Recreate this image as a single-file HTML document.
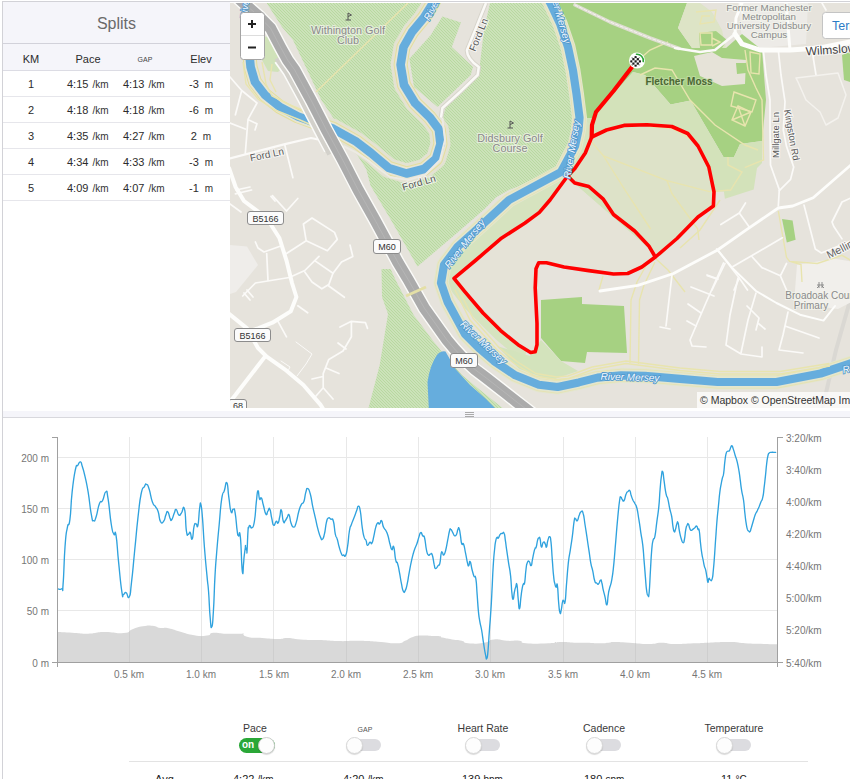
<!DOCTYPE html>
<html><head><meta charset="utf-8"><title>Activity</title>
<style>
html,body{margin:0;padding:0;}
body{width:850px;height:779px;overflow:hidden;background:#fff;position:relative;font-family:"Liberation Sans",sans-serif;color:#333;}
.abs{position:absolute;}
#frame{position:absolute;left:2px;top:1px;width:848px;height:800px;border-left:1px solid #d2d2d7;border-top:1px solid #d2d2d7;box-sizing:border-box;}
#splits{position:absolute;left:3px;top:3px;width:227px;height:405px;background:#fff;}
#splits .title{position:absolute;left:0;top:-1px;width:227px;height:41px;background:#f5f5fa;border-bottom:1px solid #d2d2da;text-align:center;font-size:16px;line-height:43px;color:#6a6a6a;}
#splits .hdr{position:absolute;left:0;top:41px;width:227px;height:26px;background:#f5f5fa;border-bottom:1px solid #dcdce4;}
#splits .row{position:absolute;left:0;width:227px;height:25px;border-bottom:1px solid #e6e6eb;}
#splits span{position:absolute;top:0;text-align:center;font-size:11px;line-height:26px;color:#2c2c2c;white-space:nowrap;}
#splits .u{font-size:10px;color:#333;}
#divider{position:absolute;left:3px;top:411px;width:847px;height:6px;background:#f5f5fa;border-bottom:1px solid #d8d8dd;}
#divider i{position:absolute;left:462px;width:9px;height:1px;background:#aaa;}
.tg{position:absolute;top:739px;width:30px;height:12px;border-radius:6px;background:#dcdce0;}
.tg b{position:absolute;left:-5px;top:-2px;width:17px;height:17px;border-radius:9px;background:#fdfdfd;border:1px solid #d8d8d8;box-sizing:border-box;box-shadow:0 1px 1px rgba(0,0,0,0.15);}
.tl{position:absolute;top:721px;font-size:10.5px;color:#3a3a3a;text-align:center;width:100px;line-height:14px;}

</style></head>
<body>
<div id="frame"></div>
<div id="splits">
<div class="title">Splits</div>
<div class="hdr">
<span style="left:13px;width:30px;font-size:11px;top:2px">KM</span>
<span style="left:65px;width:40px;font-size:11px;top:2px">Pace</span>
<span style="left:127px;width:30px;font-size:7px;color:#444;top:3px">GAP</span>
<span style="left:180px;width:36px;font-size:11px;top:2px">Elev</span>
</div>
<div class="row" style="top:68px"><span style="left:13px;width:30px">1</span><span style="left:64px">4:15 <span class="u" style="position:static"><i style="margin-left:1px;font-style:normal">/km</i></span></span><span style="left:120px">4:13 <span class="u" style="position:static"><i style="margin-left:1px;font-style:normal">/km</i></span></span><span style="left:180px;width:36px">-3 <span class="u" style="position:static">&nbsp;m</span></span></div>
<div class="row" style="top:94px"><span style="left:13px;width:30px">2</span><span style="left:64px">4:18 <span class="u" style="position:static"><i style="margin-left:1px;font-style:normal">/km</i></span></span><span style="left:120px">4:18 <span class="u" style="position:static"><i style="margin-left:1px;font-style:normal">/km</i></span></span><span style="left:180px;width:36px">-6 <span class="u" style="position:static">&nbsp;m</span></span></div>
<div class="row" style="top:120px"><span style="left:13px;width:30px">3</span><span style="left:64px">4:35 <span class="u" style="position:static"><i style="margin-left:1px;font-style:normal">/km</i></span></span><span style="left:120px">4:27 <span class="u" style="position:static"><i style="margin-left:1px;font-style:normal">/km</i></span></span><span style="left:180px;width:36px">2 <span class="u" style="position:static">&nbsp;m</span></span></div>
<div class="row" style="top:146px"><span style="left:13px;width:30px">4</span><span style="left:64px">4:34 <span class="u" style="position:static"><i style="margin-left:1px;font-style:normal">/km</i></span></span><span style="left:120px">4:33 <span class="u" style="position:static"><i style="margin-left:1px;font-style:normal">/km</i></span></span><span style="left:180px;width:36px">-3 <span class="u" style="position:static">&nbsp;m</span></span></div>
<div class="row" style="top:172px"><span style="left:13px;width:30px">5</span><span style="left:64px">4:09 <span class="u" style="position:static"><i style="margin-left:1px;font-style:normal">/km</i></span></span><span style="left:120px">4:07 <span class="u" style="position:static"><i style="margin-left:1px;font-style:normal">/km</i></span></span><span style="left:180px;width:36px">-1 <span class="u" style="position:static">&nbsp;m</span></span></div>
</div>
<div id="divider"><i style="top:1px"></i><i style="top:3px"></i><i style="top:5px"></i></div>

<svg class="abs" style="left:230px;top:3px" width="620" height="405" viewBox="230 3 620 405" font-family="Liberation Sans, sans-serif">
<defs>
<pattern id="hatch" width="3" height="3" patternUnits="userSpaceOnUse">
<rect width="3" height="3" fill="#d5e6c5"/><path d="M-1,-1 L4,4 M-1,2 L4,7 M-1,-4 L4,1 M2,-1 L5,2" stroke="#b7d99e" stroke-width="1.1" fill="none"/>
</pattern>
<clipPath id="mc"><rect x="230" y="3" width="620" height="405"/></clipPath>
<path id="riverA" d="M248,-5 L248,40 L250.6,67 L255,82 L265,95 L280,107 L298,116.500 L316,123 L333,128.700 L356.500,141.800 L371,153 L388.800,168 L406.5,173.5 L424,169 L436,158.8 L440.5,144 L438.8,129.4 L430,117.6 L415,103 L404,85 L400.6,64.7 L403.5,47 L412,32 L424,17.6 L433,3 L438,-6"/>
<path id="riverB" d="M546,-5 L550.6,3.5 L560,23.5 L568,47 L573,70.6 L576.5,94 L579.5,117.6 L578.5,130 L575,146 L561,172 L535,186 L509,200 L483.5,223.5 L457.6,246.8 L444,265 L441,283 L447.6,302 L465,334 L480,349 L494,361 L515.3,375.3 L538.8,384.7 L557.6,387 L578.8,382.4 L597.6,377.6 L621,375.3 L644.7,375.8 L680,378.8 L717.6,382 L776.5,382 L820.6,373.5 L855,362"/>
<path id="mway" d="M234,-6 L244.5,3.8 L258.5,16 L270.5,28.2 L280.4,47 L287.6,60 L294.7,70 L311,100 L326.4,130 L342.7,160 L358.2,190 L375,220 L397.9,262.4 L408.4,280 L424.4,308.2 L447,340 L455,349.5 L464.5,359.7 L475,369.5 L486,377.8 L505,392.6 L517.5,402.5 L526,409 L535,416"/>
</defs>
<g clip-path="url(#mc)">
<rect x="230" y="3" width="620" height="405" fill="#e6e3dc"/>
<!-- MAP-LAND -->
<path d="M266.700,3 L552,3 L562,30 L569,60 L573,95 L575,130 L571,152 L561,166 L535,180 L509,190 L496.5,197 L483.5,210 L457.6,232.6 L417.5,266.5 L391,220 L370.5,185.4 L366.2,169 L340,128 L321.3,100 L307.2,70 L293,40 L282,27 Z" fill="url(#hatch)"/>
<path d="M381.500,269 L390.600,269 L395.600,280 L413.500,314.800 L432.400,340 L446,357 L462,375 L480,390 L505,410 L368,410 L379.700,365 L388,314 L382,297 Z" fill="url(#hatch)"/>

<!-- corridor around river loop -->
<use href="#riverA" fill="none" stroke="#e3e2d2" stroke-width="20" stroke-linejoin="round"/>
<path d="M425,3 L490,3 L484,30 L479,72 L466,89 L446,107 L441,122 L425,108 L408,85 L404,60 L408,40 L420,20 Z" fill="#e6e3dc"/>
<path d="M442.400,16.500 L461,22.400 L451.800,47 L473,67 L470.600,75.300 L437.600,107 L414,87 L409.400,58.800 L430.600,35.300 Z" fill="url(#hatch)"/>
<!-- left-of-motorway beige -->
<path d="M230,3 L262,3 L290,50 L330,130 L375,215 L395,268 L381,268 L381,350 L368,408 L230,408 Z" fill="#e6e3dc"/>
<path d="M262,36 L268,37 L283,67 L278,72 L268,71 L262,60 Z" fill="#d0e2b9"/>
<!-- MAP-PARKS -->
<path d="M738,3 L808,3 L806,44 L760,48 L742,40 Z" fill="#edebe7"/>
<path d="M230,245 L247,246.5 L258,265 L236,292 L230,294 Z" fill="#efedea"/>
<path d="M853,290 L836,350 L822,410" fill="none" stroke="#dad8d3" stroke-width="4"/>
<path d="M558,3 L687,3 L678,28 L692,48 L726,48 L742,34 L762,50 L766,100 L762,141 L740,144 L734,157 L723.5,157 L690.6,100.6 L670.6,104.6 L645,75 L633,72 L592,118 L583,118 L579,70 L571,35 L558,3 Z" fill="#a6d182"/>
<path d="M592,118 L633,72 L645,75 L670.6,104.600 L690.6,100.600 L723.5,157 L734,157 L740,144 L762,141 L762,163 L757,168 L753.700,189.600 L724.900,198.800 L723.900,191.600 L714,191.800 L714,206 L700,217 L660,256 L646,246 L568,178 L560,172 L574,150 L581,118 Z" fill="#d3e2ba"/>
<path d="M591.7,137 L606.5,130 L624,125.400 L647,124.700 L671.8,126.500 L687.7,133.500 L698,146 L708.8,167 L714,191.800 L713.4,206 L698,217 L677,238.500 L656,256.500 L648.8,245.900 L634.7,231 L613.5,214.500 L603,198.800 L588.8,186.500 L574.7,183 L567.6,176 L574.7,168.800 L585.3,153 Z" fill="#dde2c8"/>
<path d="M560,172 L568,178 L646,246 L660,256 L630,273 L600,273 L540,263 L537,345 L530,352 L455,279 L500,240 L540,212 Z" fill="#e5e3d7"/>
<path d="M687,3 L700,3 L712,12 L722,30 L726,48 L692,48 L678,28 Z" fill="#dde4c6"/>
<path d="M694,56 L712,52 L722,58 L746,60 L745,84 L722,86 L700,76 Z" fill="#e6e3d8"/>
<path d="M699,33 L716,31 L727,40 L722,48 L700,48 Z" fill="#a6d182"/>
<path d="M736,63 L746,63 L746,73 L737,74 Z" fill="#a6d182"/>
<path d="M541,300 L582,297 L582,304 L624,306 L627,353 L587,352 L585,363 L561,361 L541,338 Z" fill="#a6d182"/>
<path d="M782,219 L792.6,220.6 L795.6,239.7 L786.8,242.6 Z" fill="#a6d182"/>
<path d="M797,264.7 L835,258.8 L855,262 L855,300 L838,309 L794,303 Z" fill="#f1efeb"/>
<path d="M842,55 L850,52 L850,82 L844,80 Z" fill="#a6d182"/>
<path d="M451,281 L470,305 L500,335 L520,352" fill="none" stroke="#d6e3bf" stroke-width="12" stroke-linecap="round"/><path d="M497,346 L530,356 L541,340 L561,361 L578,371 L552,380 L520,370 Z" fill="#d3e3bc"/>
<path d="M581,118 L592,125 L591,138 L568,176 L546,206 L500,238 L455,279 L448,300 L440,290 L442,262 L458,240 L485,218 L512,197 L538,183 L563,168 L576,146 Z" fill="#d6e3bf"/>
<!-- MAP-WATER -->
<use href="#riverA" fill="none" stroke="#e4de9c" stroke-width="14" stroke-linejoin="round"/><use href="#riverA" fill="none" stroke="#e6e5d4" stroke-width="12" stroke-linejoin="round"/><use href="#riverA" fill="none" stroke="#66addd" stroke-width="8.6" stroke-linejoin="round"/>
<use href="#riverB" fill="none" stroke="#e3e6cf" stroke-width="15" stroke-linejoin="round"/><use href="#riverB" fill="none" stroke="#e6e2b2" stroke-width="13" stroke-linejoin="round"/><use href="#riverB" fill="none" stroke="#e3e6cf" stroke-width="11.4" stroke-linejoin="round"/>
<use href="#riverB" fill="none" stroke="#66addd" stroke-width="8.2" stroke-linejoin="round"/>
<path d="M437,355 Q441,350.500 445.500,351.500 L455.500,369 L470,385 L486,399 L499,412 L429,412 L427.500,382 Q430,365 437,355 Z" fill="#66addd"/>
<!-- MAP-ROADS -->
<!-- footpaths (pale yellow) -->
<g fill="none" stroke="#e8e4ae" stroke-width="1.4">
<path d="M316,92 L408,3"/>
<path d="M590.6,140.600 L603.5,156 L667,180.600 L709.4,191.600 L730.6,190 L742,172 L728,165 L728,157"/>
<path d="M603.5,156 L625,190 L650.6,229"/>
<path d="M667,180.600 L671.8,193.500 L697.6,228.800 L699,240"/><path d="M648,126.500 L672,128.500 L690,139"/>
<path d="M640,75 L655,68 L672,70 L690,100 L715,125 L745,145 L758,150"/>
<path d="M636,62 L650,50 L668,42"/>
<path d="M745,50 L748,70 L756,88 L762,100 L763.5,160 L744.7,167.600"/>
<path d="M734,92 L756,100 L752,112 L731,106 Z"/>
<path d="M738,106 L751,112 L745,126 L732,120 Z M738,106 L745,126 M751,112 L732,120"/>
<path d="M696,12 L716,10 L714,22 L700,24 L702,16 L710,16"/>
<path d="M700,33 L712,33 L712,45 L701,45 Z M712,38 L720,42 L712,46"/>
<path d="M750,52 L760,54 L759,74 L751,73 Z"/>
<path d="M603,276 L599,290"/>
<path d="M648,262 L637,282 L631,300 L630,363 M655,262 L644,285 L639.500,300 L638.500,364"/>
<path d="M655,258 L668,270 L685,292"/>
<path d="M455,290 L470,320 L497,350 L515,364 L535,376 L557,379.500 L569,378.500 L593,369.500 L626,363.500 L680,370.500 L720,374 L780,374 L830,366"/><path d="M458,288 L473,318 L499,347.500 L517,361.500 L536,373.500 L557,377 L568,376 L592,367 L626,361 L680,368 L720,371.500 L780,371.500 L829,363.500"/>
<path d="M720,200 L700,230 L680,248"/>
<path d="M778.300,211 L786.500,257.300 L789.600,261.400 L817.300,263.500 L842,255.300 L852,261 M789.600,261.400 L801,264.500 L802,282"/>
</g>
<g fill="none" stroke="#e8e4ae" stroke-width="1.4">
<path d="M243,62 L246,84 L258,99 L275,110 L300,120 L330,133"/>
<path d="M262,62 L266,84 L272,96 L290,105 L310,113 L322,110"/>
<path d="M272,64 L270,80 L276,92"/>
</g>
<!-- minor roads white -->
<g fill="none" stroke="#fbfaf8" stroke-width="1.7" stroke-linecap="round" stroke-linejoin="round">
<path d="M230,158.500 L284,144.400 L311,138 L323,140.500" stroke-width="2.2"/>
<path d="M230,77 L241.700,90.500 L257,103 L248,119.300 L245.300,153.400 M241.700,90.500 L235.400,114.800 M230,123 L245.300,129 M248.900,120 L257,123.800 L255,130 M235.400,193.800 L251.600,190 M271,196.500 L275,201"/>
<path d="M284.800,145 L292.900,177.700"/>
<path d="M303.4,224 L312,218 L334.5,232.4 L337.3,239.4 L327.4,250.7 L306.2,240.8 Z M306.2,240.8 L286.5,253.5"/>
<path d="M255.4,242 L258,248 L264,252 L279.4,246.5 M266.7,253.5 L268,280.4"/>
<path d="M242.7,296 L255.4,283 L289.3,277.5 L304.8,270.5 L319,256.4 M314.7,260.6 L333,273.3 L341.5,262 L352.8,256.4 L350,245"/>
<path d="M304.8,272 L312,282 L321.8,288.8 L328.8,284.6 L333,273.3 M328.8,286 L344.4,297.3"/>
<path d="M244,293 L250,300 M247,290 L253,297"/>
<path d="M297.8,305.8 L307.7,312.8 M278,321.3 L286.5,336.8"/>
<path d="M340,327 L351.4,321.3 L365.5,322.7 L367.5,328.4 M351.4,321.3 L351.4,336.8 L343,351 L328.8,359.4 L323.2,373.6 L323.2,387.7 L316,396 M326,368 L339,373.5 M312,379 L323,376.5 M323.2,387.7 L333,399 M338,343 L346,349"/>
<path d="M272.4,195.6 L286.5,211 L297.8,198.5"/>
<path d="M230,204 L241,212 M236,190 L250,187"/>
<path d="M281,361 L290,367 L288,371 M296,342 L312,354 L306,364 L297,376" stroke-width="1"/>
<path d="M575,5 L610,22 L650,38 L679,48.5" stroke="#dfddd2" stroke-width="3.6"/><path d="M575,5 L610,22 L650,38 L679,48.5" stroke="#f6f5f0" stroke-width="1" stroke-dasharray="3 2"/><path d="M675,48 L700,52 L715,50 L725,42 L735,34" stroke-width="2.5"/>
<path d="M763.300,50 L766,75 L770,100 L770,130 L770.500,165 L779.300,189.600 L778.300,206"/>
<path d="M778.300,50 L781,75 L785,101.700 L783.300,130 L786.500,146.400 L793.700,167 L790.600,179.300 L779.300,190.600"/>
<path d="M798,50 L812,50 L816,75"/>
<path d="M796,78 L838,73 L846,95 L838,118 L826,125 L820,112 L806,100 L798,82 Z" stroke="#f4f2ee" stroke-width="1.5"/>
<path d="M672,275 L669,300 L666,326 M660,327 L670,329"/>
<path d="M723.5,263 L705,305 L690,340 L692,346 L706,347"/>
<path d="M691,287 L714,296 M688,304 L701,313 M687,321 L696,326 M707,275 L718,279"/>
<path d="M738,278 L730,315 L726,345 L741,354 L762,357 L762,347"/>
<path d="M756,293 L748,320 L741,353"/>
<path d="M747,306 L759,318 L756,330 M759,324 L765,329"/>
<path d="M788,312 L783,335 L779,350 L803,353 M785,326 L819,338"/>
<path d="M720.800,224.500 L739.300,213 L745.500,203 M739.300,213 L749.600,227.600"/>
<path d="M716.700,249 L739.300,277.900 L747.500,290 M733,266.600 L782.400,237.800 M751.600,256.300 L761.900,267.600 L780.400,275.800 L786.500,290 M780.400,275.800 L786.500,263.500 M725,263.500 L712,290 M707.500,275.800 L716.700,278.900 M739.300,277.900 L734,290"/>
<path d="M804,205 L815.300,249 L821.400,253 L852,240.500"/>
<path d="M852,197.500 L842,202 L832,222 L833.800,226.500 L842,238.900"/>
<path d="M822,3 L826,10 M740,3 L744,20"/>
</g>
<!-- Ford Ln roads w/ casing -->
<path d="M442,115 L445,140 L440,160 L425,175 L408,180 L390,177 L378,168 L367.800,160 L356.500,152.700 L343.300,146" fill="none" stroke="#eceae4" stroke-width="2" stroke-linejoin="round"/>
<path d="M486,3 L476,28 L467,50 Q466.500,58 478.800,67 L477.600,75 L460,92 L442.400,108 L441,117.600" fill="none" stroke="#d8d5cc" stroke-width="4.5" stroke-linejoin="round"/>
<path d="M486,3 L476,28 L467,50 Q466.500,58 478.800,67 L477.600,75 L460,92 L442.400,108 L441,117.600" fill="none" stroke="#faf9f6" stroke-width="2.5" stroke-linejoin="round"/>
<!-- major white roads -->
<g fill="none" stroke="#fdfdfb" stroke-linecap="round" stroke-linejoin="round">
<path d="M229,168 L235.6,187 L244,201 L266.7,218 L279.4,238 L286.5,260.6 L292,283 L296.4,297 L290.7,311.4 L272.4,322.7 L258,328.4 L250,331" stroke-width="4"/><path d="M228,313 L247,328.4 L258,348 L266.7,356.6 L286.5,370.7 L303.4,385 L320.4,404.6 L325,412 M265,356.6 L235.6,394.7 L228,404" stroke-width="4"/>
<path d="M600,291 L638,285.3 L673.5,273.5 L717.6,250 L747,229.4 L778.3,208 L792.7,206 L813.2,197.8 L852,164" stroke-width="2.8"/>
<path d="M717.6,250 L732,267.6 L756,291 L776.5,303 L800,314.7 L823.5,320.6 L835,306" stroke-width="2"/>
<path d="M735,34 L742,44 L760,50 L790,50 L820,48 L850,42" stroke-width="5"/>
<path d="M735,34 L736,18 L742,3 M790,50 L786,3" stroke-width="3"/>
</g>
<!-- motorway -->
<path d="M286,58 L294.7,70 L311,100 L326.4,130 L336,148" fill="none" stroke="#fbfbf9" stroke-width="7.5" transform="translate(-8.5,2.5)"/>
<path d="M285,56 L294.7,70 L311,100 L326.4,130 L338,152" fill="none" stroke="#d3d1cb" stroke-width="4.6" transform="translate(-8.5,2.5)"/>
<use href="#mway" fill="none" stroke="#fbfbf9" stroke-width="14"/>
<use href="#mway" fill="none" stroke="#ababab" stroke-width="11.2"/>
<use href="#mway" fill="none" stroke="#b7b7b7" stroke-width="0.8"/>
<path d="M406,296 L426,287" stroke="#e4dfa6" stroke-width="3" fill="none"/>
<!-- MAP-ROUTE -->
<g fill="none" stroke="#f00" stroke-width="3.6" stroke-linejoin="round" stroke-linecap="round">
<path d="M632,67 L613.5,91 L596,112 L592,125 L591.7,137" stroke-width="4.2"/>
<path d="M591.7,137 L606.5,130 L624,125.4 L647,124.7 L671.8,126.5 L687.7,133.5 L698,146 L708.8,167 L714,191.8 L713.4,206 L698,217 L677,238.5 L656,256.5 L641.8,267 L627.7,273.5 L613.5,274 L588.8,270.6 L564,267 L546.5,262.8 L538.7,262.8 L536,268.8 L535.2,288 L537,323.5 L537,344.7 L535.2,351.8 L530.6,352.5 L518,344.7 L500.6,330.6 L483,313 L465,291.8 L454,278.4 L476,260 L500.6,238.8 L525,223 L539.4,212.4 L550,200 L567.6,176 L574.7,168.8 L585.3,153 L591.7,137"/>
<path d="M567.6,176 L574.7,183 L588.8,186.5 L603,198.8 L613.5,214.5 L634.7,231 L648.8,245.9 L655,256.5"/>
</g>
<circle cx="637" cy="60.5" r="8" fill="#fff"/>
<path d="M636.5,54.2 A6.3,6.3 0 0 1 643.2,61.5" fill="none" stroke="#2aa737" stroke-width="1.6" stroke-linecap="round"/>
<clipPath id="fc"><circle cx="635.6" cy="61.4" r="5.4"/></clipPath>
<g clip-path="url(#fc)" fill="#1a1a1a"><rect x="627.90" y="53.70" width="2.20" height="2.20"/><rect x="632.30" y="53.70" width="2.20" height="2.20"/><rect x="636.70" y="53.70" width="2.20" height="2.20"/><rect x="641.10" y="53.70" width="2.20" height="2.20"/><rect x="630.10" y="55.90" width="2.20" height="2.20"/><rect x="634.50" y="55.90" width="2.20" height="2.20"/><rect x="638.90" y="55.90" width="2.20" height="2.20"/><rect x="627.90" y="58.10" width="2.20" height="2.20"/><rect x="632.30" y="58.10" width="2.20" height="2.20"/><rect x="636.70" y="58.10" width="2.20" height="2.20"/><rect x="641.10" y="58.10" width="2.20" height="2.20"/><rect x="630.10" y="60.30" width="2.20" height="2.20"/><rect x="634.50" y="60.30" width="2.20" height="2.20"/><rect x="638.90" y="60.30" width="2.20" height="2.20"/><rect x="627.90" y="62.50" width="2.20" height="2.20"/><rect x="632.30" y="62.50" width="2.20" height="2.20"/><rect x="636.70" y="62.50" width="2.20" height="2.20"/><rect x="641.10" y="62.50" width="2.20" height="2.20"/><rect x="630.10" y="64.70" width="2.20" height="2.20"/><rect x="634.50" y="64.70" width="2.20" height="2.20"/><rect x="638.90" y="64.70" width="2.20" height="2.20"/><rect x="627.90" y="66.90" width="2.20" height="2.20"/><rect x="632.30" y="66.90" width="2.20" height="2.20"/><rect x="636.70" y="66.90" width="2.20" height="2.20"/><rect x="641.10" y="66.90" width="2.20" height="2.20"/></g>
<!-- MAP-LABELS -->
<g font-size="10" fill="#8a8a8a" text-anchor="middle" stroke="#f4f6ee" stroke-width="2" paint-order="stroke" stroke-opacity="0.7">
<text x="348" y="34" font-size="10.8">Withington Golf</text><text x="348" y="44" font-size="10.8">Club</text>
<text x="510" y="142" font-size="10.8">Didsbury Golf</text><text x="510" y="152" font-size="10.8">Course</text>
<text x="769" y="10.5" font-size="9.8">Former Manchester</text><text x="769" y="19.600" font-size="9.8">Metropolitan</text><text x="769" y="28.700" font-size="9.8">University Didsbury</text><text x="769" y="37.800" font-size="9.8">Campus</text>
<text x="819" y="299" text-anchor="middle">Broadoak Cour</text><text x="811" y="309">Primary</text>
</g>
<text x="679" y="85" font-size="10" font-weight="bold" fill="#4a6634" text-anchor="middle" stroke="#c6dfac" stroke-width="2" paint-order="stroke" stroke-opacity="0.7">Fletcher Moss</text>
<g font-size="10" fill="#555" text-anchor="middle" stroke="#fff" stroke-width="2" paint-order="stroke" stroke-opacity="0.7">
<text x="267" y="158" transform="rotate(-12 267 155)">Ford Ln</text>
<text x="419" y="186" transform="rotate(-16 419 183)">Ford Ln</text>
<text x="479" y="38" transform="rotate(-68 479 35)">Ford Ln</text>
<text x="778.500" y="141" transform="rotate(-90 775.500 138)" font-size="9.5">Millgate Ln</text>
<text x="794" y="135" transform="rotate(80 791 132)" font-size="9.5">Kingston Rd</text>
<text x="843" y="253" transform="rotate(-27 840 249)" font-size="11" fill="#666">Melling</text>
<text x="831" y="54" transform="rotate(-4 828 50)" font-size="12" fill="#444">Wilmslow</text>
</g>
<g font-size="10" font-style="italic" fill="#f2f8ff" text-anchor="middle" stroke="#4f97cc" stroke-width="1.6" paint-order="stroke">
<text x="465" y="247" transform="rotate(-52 465 244)">River Mersey</text>
<text x="483" y="346" transform="rotate(43 483 343)">River Mersey</text>
<text x="630" y="380.500" transform="rotate(1.5 630 377)">River Mersey</text>
<text x="575" y="150" transform="rotate(-80 575 150)">River Mersey</text>
<text x="433" y="12" transform="rotate(-62 433 10)">River</text>
<text x="557" y="21" transform="rotate(74 560 18)">River Mersey</text>
<text x="250" y="10" transform="rotate(-85 248 10)">River</text>
<text x="850" y="372" transform="rotate(-12 850 370)">Riv</text>
</g>
<g font-size="9" fill="#333" text-anchor="middle">
<rect x="247.500" y="211.500" width="36" height="13" rx="2.500" fill="#fbfbfb" stroke="#8c8c8c"/><text x="265.500" y="221.500">B5166</text>
<rect x="234.500" y="328.500" width="36" height="13" rx="2.500" fill="#fbfbfb" stroke="#8c8c8c"/><text x="252.500" y="338.500">B5166</text>
<rect x="373.500" y="239.500" width="27" height="14" rx="2.500" fill="#fbfbfb" stroke="#8c8c8c"/><text x="387" y="250">M60</text>
<rect x="450.500" y="353.500" width="27" height="14" rx="2.500" fill="#fbfbfb" stroke="#8c8c8c"/><text x="464" y="364">M60</text>
<rect x="228.500" y="399.500" width="18" height="12" rx="2.500" fill="#fbfbfb" stroke="#8c8c8c"/><text x="238" y="409">68</text>
</g>
<g stroke="#555" stroke-width="1" fill="none">
<path d="M348,13 V20 M345.500,20 H351 M348,13 L351.500,15 L348,16.500"/>
<path d="M510,121 V128 M507.500,128 H513 M510,121 L513.500,123 L510,124.500"/>
</g>
<g stroke="#777" stroke-width="0.8" fill="none"><path d="M819,282 V288 M822,282 V288 M817,285 H824 M817,288 L819,286 M824,288 L822,286"/></g>
<rect x="697" y="392" width="160" height="17" fill="#fff" fill-opacity="0.75"/>
<text x="700" y="403.500" font-size="10.500" fill="#333">© Mapbox © OpenStreetMap Im</text>
</g>
<!-- MAP-CONTROLS -->
<rect x="240.500" y="12.500" width="24" height="47" rx="3" fill="#fff" stroke="#a4a4a4"/>
<path d="M241,35.500 H264" stroke="#ddd" stroke-width="1"/>
<path d="M248,24 H256 M252,20 V28 M248,47.500 H256" stroke="#222" stroke-width="2" fill="none"/>
<rect x="822.500" y="12.500" width="40" height="26" rx="3" fill="#fff" stroke="#c4c4c4"/>
<text x="832" y="30" font-size="12.500" fill="#2b7bc6">Terr</text>
</svg>

<svg class="abs" style="left:0;top:420px" width="850" height="359" viewBox="0 420 850 359" font-family="Liberation Sans, sans-serif">
<g stroke="#e8e8e8" stroke-width="1" shape-rendering="crispEdges">
<path d="M57,457.5H778M57,508.5H778M57,559.5H778M57,610.5H778"/>
<path d="M129.5,437V662M201.5,437V662M273.5,437V662M346.5,437V662M418.5,437V662M490.5,437V662M563.5,437V662M635.5,437V662M707.5,437V662"/>
</g>
<clipPath id="gc"><path d="M57.5,632.1 C57.5,632.1 53.3,631.9 57.7,632.1 C62.0,632.3 63.0,632.3 72.1,632.8 C81.3,633.2 78.5,633.9 88.2,633.7 C97.8,633.5 93.6,632.3 104.2,632.1 C114.8,631.9 114.8,634.0 123.5,633.1 C132.2,632.1 127.3,630.9 133.1,628.9 C138.9,626.9 137.0,627.3 142.8,626.3 C148.5,625.4 147.1,625.2 152.4,625.7 C157.7,626.2 155.6,627.2 160.4,627.9 C165.2,628.7 162.2,627.0 168.4,628.3 C174.7,629.5 173.6,630.0 181.3,632.1 C189.0,634.2 186.4,634.3 194.1,635.3 C201.8,636.4 201.2,636.4 207.0,635.6 C212.8,634.9 207.6,633.3 213.4,632.8 C219.2,632.2 217.6,633.4 226.2,633.7 C234.9,634.0 237.3,633.7 242.3,633.7 C247.3,633.7 241.1,632.8 242.8,633.7 C244.6,634.7 242.2,635.7 248.0,636.9 C253.8,638.2 253.1,637.3 262.1,637.9 C271.2,638.5 270.5,638.9 278.2,638.9 C285.9,638.9 281.1,637.7 287.8,637.9 C294.5,638.1 291.0,638.8 300.6,639.5 C310.3,640.2 308.3,639.7 319.9,640.1 C331.5,640.6 327.6,640.9 339.2,641.1 C350.7,641.3 346.9,640.6 358.4,640.8 C370.0,641.0 366.1,641.0 377.7,641.7 C389.3,642.5 388.8,643.6 397.0,643.3 C405.2,643.1 400.2,642.7 405.0,640.8 C409.8,638.9 407.7,638.5 413.0,636.9 C418.3,635.4 416.7,635.9 422.7,635.6 C428.6,635.4 427.6,635.8 432.8,636.0 C438.0,636.2 437.1,635.8 440.0,636.3 C442.9,636.8 438.8,636.6 442.5,637.6 C446.1,638.5 446.3,638.5 452.1,639.5 C457.9,640.5 456.9,639.6 461.7,640.8 C466.6,641.9 461.4,642.8 468.2,643.3 C474.9,643.9 476.5,643.9 484.2,642.7 C491.9,641.6 487.1,640.1 493.9,639.5 C500.6,638.9 499.0,640.4 506.7,640.8 C514.4,641.2 513.8,640.0 519.5,640.8 C525.3,641.6 517.3,642.6 526.0,643.3 C534.6,644.1 537.8,643.7 548.4,643.3 C559.0,643.0 553.6,642.3 561.3,642.1 C569.0,641.9 566.4,642.5 574.1,642.7 C581.8,642.9 579.3,642.5 587.0,642.7 C594.7,642.9 592.9,643.4 599.8,643.3 C606.7,643.3 606.1,642.8 610.0,642.4 C613.9,642.0 606.9,642.0 612.7,642.1 C618.4,642.2 618.5,642.1 629.3,642.7 C640.0,643.3 638.9,644.0 648.5,644.0 C658.2,644.0 653.7,642.7 661.4,642.7 C669.1,642.7 664.6,643.8 674.2,644.0 C683.9,644.2 681.9,643.8 693.5,643.3 C705.0,642.9 701.2,642.8 712.8,642.4 C724.3,642.0 722.4,641.8 732.0,642.1 C741.7,642.4 735.2,642.8 744.9,643.3 C754.5,643.9 754.4,643.7 764.1,644.0 C773.9,644.3 773.3,644.2 777.3,644.3 C781.3,644.4 777.4,644.3 777.5,644.3 L777.5,662 L57.5,662 Z"/></clipPath>
<path d="M57.5,632.1 C57.5,632.1 53.3,631.9 57.7,632.1 C62.0,632.3 63.0,632.3 72.1,632.8 C81.3,633.2 78.5,633.9 88.2,633.7 C97.8,633.5 93.6,632.3 104.2,632.1 C114.8,631.9 114.8,634.0 123.5,633.1 C132.2,632.1 127.3,630.9 133.1,628.9 C138.9,626.9 137.0,627.3 142.8,626.3 C148.5,625.4 147.1,625.2 152.4,625.7 C157.7,626.2 155.6,627.2 160.4,627.9 C165.2,628.7 162.2,627.0 168.4,628.3 C174.7,629.5 173.6,630.0 181.3,632.1 C189.0,634.2 186.4,634.3 194.1,635.3 C201.8,636.4 201.2,636.4 207.0,635.6 C212.8,634.9 207.6,633.3 213.4,632.8 C219.2,632.2 217.6,633.4 226.2,633.7 C234.9,634.0 237.3,633.7 242.3,633.7 C247.3,633.7 241.1,632.8 242.8,633.7 C244.6,634.7 242.2,635.7 248.0,636.9 C253.8,638.2 253.1,637.3 262.1,637.9 C271.2,638.5 270.5,638.9 278.2,638.9 C285.9,638.9 281.1,637.7 287.8,637.9 C294.5,638.1 291.0,638.8 300.6,639.5 C310.3,640.2 308.3,639.7 319.9,640.1 C331.5,640.6 327.6,640.9 339.2,641.1 C350.7,641.3 346.9,640.6 358.4,640.8 C370.0,641.0 366.1,641.0 377.7,641.7 C389.3,642.5 388.8,643.6 397.0,643.3 C405.2,643.1 400.2,642.7 405.0,640.8 C409.8,638.9 407.7,638.5 413.0,636.9 C418.3,635.4 416.7,635.9 422.7,635.6 C428.6,635.4 427.6,635.8 432.8,636.0 C438.0,636.2 437.1,635.8 440.0,636.3 C442.9,636.8 438.8,636.6 442.5,637.6 C446.1,638.5 446.3,638.5 452.1,639.5 C457.9,640.5 456.9,639.6 461.7,640.8 C466.6,641.9 461.4,642.8 468.2,643.3 C474.9,643.9 476.5,643.9 484.2,642.7 C491.9,641.6 487.1,640.1 493.9,639.5 C500.6,638.9 499.0,640.4 506.7,640.8 C514.4,641.2 513.8,640.0 519.5,640.8 C525.3,641.6 517.3,642.6 526.0,643.3 C534.6,644.1 537.8,643.7 548.4,643.3 C559.0,643.0 553.6,642.3 561.3,642.1 C569.0,641.9 566.4,642.5 574.1,642.7 C581.8,642.9 579.3,642.5 587.0,642.7 C594.7,642.9 592.9,643.4 599.8,643.3 C606.7,643.3 606.1,642.8 610.0,642.4 C613.9,642.0 606.9,642.0 612.7,642.1 C618.4,642.2 618.5,642.1 629.3,642.7 C640.0,643.3 638.9,644.0 648.5,644.0 C658.2,644.0 653.7,642.7 661.4,642.7 C669.1,642.7 664.6,643.8 674.2,644.0 C683.9,644.2 681.9,643.8 693.5,643.3 C705.0,642.9 701.2,642.8 712.8,642.4 C724.3,642.0 722.4,641.8 732.0,642.1 C741.7,642.4 735.2,642.8 744.9,643.3 C754.5,643.9 754.4,643.7 764.1,644.0 C773.9,644.3 773.3,644.2 777.3,644.3 C781.3,644.4 777.4,644.3 777.5,644.3 L777.5,662 L57.5,662 Z" fill="#d9d9d9" stroke="none"/>
<g stroke="#cecece" stroke-width="1" shape-rendering="crispEdges" clip-path="url(#gc)">
<path d="M129.5,625V662M201.5,625V662M273.5,625V662M346.5,625V662M418.5,625V662M490.5,625V662M563.5,625V662M635.5,625V662M707.5,625V662"/>
</g>
<path d="M57.7,588.8 C58.9,588.8 60.2,590.2 61.8,588.8 C63.5,587.3 62.2,596.5 63.1,583.9 C64.1,571.4 63.8,563.9 65.0,547.0 C66.3,530.2 65.8,535.9 67.3,527.8 C68.7,519.6 68.4,530.3 69.9,519.7 C71.3,509.1 70.5,507.4 72.1,492.4 C73.7,477.5 73.6,478.1 75.3,470.0 C77.1,461.8 76.3,467.5 77.9,465.1 C79.4,462.7 79.1,461.4 80.5,461.9 C81.8,462.4 81.0,462.4 82.4,466.7 C83.7,471.1 83.2,468.7 85.0,476.4 C86.7,484.1 86.2,480.9 88.2,492.4 C90.1,504.0 89.7,506.4 91.4,514.9 C93.0,523.4 92.2,520.2 93.6,520.7 C95.1,521.2 94.5,521.6 96.2,516.5 C97.9,511.4 97.5,508.5 99.4,503.7 C101.3,498.9 100.7,504.0 102.6,500.5 C104.5,496.9 104.2,492.3 105.8,491.8 C107.5,491.3 106.4,489.0 108.1,498.9 C109.7,508.7 109.6,513.9 111.3,524.5 C113.0,535.1 112.4,530.8 113.9,534.2 C115.3,537.5 114.7,527.1 116.1,535.8 C117.5,544.4 116.9,546.2 118.7,563.1 C120.4,579.9 120.4,582.5 121.9,592.0 C123.3,601.4 122.2,594.3 123.5,594.5 C124.7,594.7 124.3,591.9 126.1,592.6 C127.8,593.3 127.6,599.9 129.3,596.8 C130.9,593.7 129.9,596.3 131.5,582.3 C133.2,568.4 132.8,569.5 134.7,550.2 C136.7,531.0 136.0,535.0 137.9,518.1 C139.9,501.3 139.2,503.5 141.1,494.0 C143.1,484.6 142.7,489.5 144.4,486.7 C146.0,483.8 145.2,483.6 146.6,484.4 C148.1,485.2 147.4,483.9 149.2,489.2 C150.9,494.5 150.5,496.8 152.4,502.1 C154.3,507.4 153.9,504.0 155.6,506.9 C157.3,509.8 156.7,507.4 158.2,511.7 C159.6,516.0 158.8,518.4 160.4,521.3 C162.1,524.2 162.0,523.3 163.6,521.3 C165.3,519.4 164.6,517.8 165.9,514.9 C167.1,512.0 166.5,510.7 167.8,511.7 C169.1,512.7 168.9,515.7 170.0,518.1 C171.2,520.5 170.4,521.2 171.7,519.7 C172.9,518.3 172.9,516.4 174.2,513.3 C175.6,510.2 174.8,509.0 176.1,509.4 C177.5,509.9 177.2,513.8 178.7,514.9 C180.3,516.1 179.6,515.0 181.3,513.3 C183.0,511.6 183.0,503.8 184.5,509.1 C186.0,514.4 185.3,523.4 186.4,531.0 C187.6,538.5 187.2,533.7 188.3,534.2 C189.5,534.7 189.1,531.1 190.3,532.6 C191.4,534.0 191.0,540.9 192.2,539.0 C193.4,537.1 193.0,530.7 194.1,526.1 C195.3,521.6 194.9,524.2 196.1,523.9 C197.2,523.6 196.9,529.8 198.0,525.2 C199.0,520.6 198.7,514.7 199.6,508.5 C200.5,502.3 200.0,501.7 200.9,504.6 C201.7,507.5 201.4,505.4 202.5,518.1 C203.5,530.8 203.1,529.7 204.4,547.0 C205.8,564.4 205.7,562.4 207.0,575.9 C208.2,589.4 207.6,579.4 208.6,592.0 C209.5,604.5 209.2,607.3 210.2,617.7 C211.1,628.1 210.8,628.6 211.8,626.7 C212.8,624.7 212.4,626.5 213.4,611.2 C214.4,596.0 214.0,593.3 215.0,575.9 C216.0,558.6 215.4,568.9 216.6,553.4 C217.9,538.0 217.6,540.9 219.2,524.5 C220.7,508.2 220.2,509.0 221.7,498.9 C223.3,488.7 222.8,495.6 224.3,490.8 C225.9,486.0 225.5,480.9 226.9,482.8 C228.2,484.7 227.6,488.6 228.8,497.2 C230.1,505.9 229.7,508.1 231.1,511.7 C232.4,515.3 232.1,508.6 233.3,509.1 C234.6,509.6 234.1,506.8 235.2,513.3 C236.4,519.9 236.2,524.2 237.2,531.0 C238.1,537.7 237.5,533.9 238.4,535.8 C239.4,537.7 239.2,526.8 240.4,537.4 C241.5,548.0 241.3,563.4 242.3,571.1 C243.3,578.8 243.0,567.4 243.6,563.1 C244.1,558.7 243.6,561.5 244.1,556.7 C244.7,551.8 245.0,549.9 245.4,547.0 C245.8,544.1 245.1,546.1 245.5,547.0 C245.9,548.0 246.2,549.3 246.7,550.2 C247.2,551.2 246.7,556.0 247.1,550.2 C247.5,544.4 247.5,537.7 248.0,531.0 C248.5,524.2 248.1,529.4 248.7,527.8 C249.3,526.1 249.0,525.5 249.9,525.5 C250.8,525.5 250.5,529.0 251.8,527.8 C253.2,526.5 253.1,529.0 254.4,521.3 C255.8,513.6 255.3,511.2 256.3,502.1 C257.4,492.9 257.0,491.8 257.9,490.8 C258.9,489.9 258.5,496.6 259.5,498.9 C260.6,501.1 260.3,496.3 261.5,498.2 C262.6,500.1 262.0,500.5 263.4,505.3 C264.7,510.1 264.6,512.5 266.0,514.3 C267.3,516.0 266.7,512.6 267.9,511.1 C269.0,509.5 268.7,507.0 269.8,509.1 C271.0,511.2 270.6,513.3 271.7,518.1 C272.9,522.9 272.3,524.2 273.7,525.2 C275.0,526.1 274.9,522.0 276.2,521.3 C277.6,520.7 277.1,524.4 278.2,522.9 C279.2,521.5 278.8,520.4 279.8,516.5 C280.7,512.7 280.3,508.6 281.4,510.1 C282.4,511.5 282.1,518.2 283.3,521.3 C284.5,524.5 284.1,521.8 285.2,520.7 C286.4,519.5 286.0,519.2 287.2,517.5 C288.3,515.7 287.9,513.3 289.1,514.9 C290.2,516.5 289.7,519.3 291.0,522.9 C292.4,526.6 292.0,527.1 293.6,527.1 C295.1,527.1 294.6,527.6 296.1,522.9 C297.7,518.3 297.2,517.2 298.7,511.7 C300.3,506.2 299.7,507.7 301.3,504.6 C302.8,501.6 302.5,505.1 303.9,501.4 C305.2,497.8 304.6,496.3 305.8,492.4 C306.9,488.6 306.4,488.1 307.7,488.6 C309.1,489.1 308.7,488.5 310.3,494.0 C311.8,499.5 311.3,499.7 312.8,506.9 C314.4,514.1 313.9,511.4 315.4,518.1 C317.0,524.9 316.4,523.6 318.0,529.4 C319.5,535.1 319.2,534.5 320.6,537.4 C321.9,540.3 321.3,540.0 322.5,539.0 C323.6,538.0 323.2,539.0 324.4,534.2 C325.6,529.4 325.2,527.8 326.3,522.9 C327.5,518.1 326.9,519.3 328.3,518.1 C329.6,517.0 329.3,518.1 330.8,519.1 C332.4,520.0 332.0,516.8 333.4,521.3 C334.7,525.9 334.2,528.9 335.3,534.2 C336.5,539.5 336.1,535.1 337.2,539.0 C338.4,542.8 337.8,542.4 339.2,547.0 C340.5,551.6 340.4,552.0 341.7,554.4 C343.1,556.8 342.5,554.8 343.7,555.0 C344.8,555.3 344.4,557.8 345.6,555.4 C346.8,553.0 346.4,554.3 347.5,547.0 C348.7,539.7 348.3,537.7 349.4,531.0 C350.6,524.2 350.0,528.4 351.4,524.5 C352.7,520.7 352.4,522.2 353.9,518.1 C355.5,514.1 355.2,514.6 356.5,511.1 C357.9,507.5 357.3,506.0 358.4,506.2 C359.6,506.4 359.2,505.2 360.4,511.7 C361.5,518.2 361.1,520.0 362.3,527.8 C363.4,535.5 363.1,533.5 364.2,537.4 C365.4,541.2 365.2,538.2 366.1,540.6 C367.1,543.0 366.3,544.9 367.4,545.4 C368.6,545.9 368.7,542.9 370.0,542.2 C371.3,541.5 370.8,545.1 371.9,543.2 C373.1,541.2 372.7,540.6 373.9,535.8 C375.0,531.0 374.6,531.0 375.8,527.1 C376.9,523.3 376.6,523.9 377.7,522.9 C378.9,522.0 378.5,524.6 379.6,523.9 C380.8,523.2 380.4,519.7 381.6,520.7 C382.7,521.7 382.1,524.0 383.5,527.1 C384.8,530.2 384.7,528.4 386.1,531.0 C387.4,533.6 386.8,531.9 388.0,535.8 C389.1,539.6 388.8,539.7 389.9,543.8 C391.1,547.9 390.7,548.6 391.8,549.6 C393.0,550.6 392.6,543.9 393.8,547.0 C394.9,550.1 394.5,554.9 395.7,559.9 C396.8,564.9 396.5,559.9 397.6,563.7 C398.8,567.6 398.4,566.6 399.5,572.7 C400.7,578.8 400.3,578.4 401.5,583.9 C402.6,589.5 402.2,589.4 403.4,591.3 C404.6,593.3 404.2,592.6 405.3,590.4 C406.5,588.2 406.1,589.2 407.2,583.9 C408.4,578.6 407.8,579.9 409.2,572.7 C410.5,565.5 410.2,566.6 411.7,559.9 C413.3,553.1 412.8,555.0 414.3,550.2 C415.9,545.4 415.5,547.7 416.9,543.8 C418.2,540.0 417.7,540.8 418.8,537.4 C420.0,534.0 419.6,533.1 420.7,532.6 C421.9,532.1 421.5,534.1 422.7,535.8 C423.8,537.4 423.4,533.7 424.6,538.0 C425.7,542.4 425.4,545.1 426.5,550.2 C427.7,555.3 427.3,553.9 428.4,555.0 C429.6,556.2 429.2,554.1 430.4,554.1 C431.5,554.1 431.1,551.9 432.3,555.0 C433.4,558.2 433.3,560.6 434.2,564.7 C435.2,568.7 434.3,568.2 435.5,568.5 C436.7,568.8 436.8,567.3 438.1,565.6 C439.4,564.0 439.0,566.7 439.9,563.1 C440.8,559.4 440.4,556.5 441.2,553.4 C442.0,550.4 441.7,552.3 442.5,552.8 C443.2,553.3 442.8,555.8 443.8,555.0 C444.7,554.3 444.5,554.6 445.7,550.2 C446.8,545.9 446.5,546.4 447.6,540.6 C448.8,534.8 448.6,534.3 449.5,531.0 C450.5,527.6 449.9,528.9 450.8,529.4 C451.8,529.8 451.6,530.6 452.8,532.6 C453.9,534.5 453.5,535.3 454.7,535.8 C455.8,536.3 455.6,536.1 456.6,534.2 C457.6,532.2 457.1,531.0 457.9,529.4 C458.7,527.7 458.4,526.8 459.2,528.7 C459.9,530.6 459.7,531.3 460.5,535.8 C461.2,540.3 460.8,541.2 461.7,543.8 C462.7,546.4 462.5,541.6 463.7,544.4 C464.8,547.3 464.4,547.9 465.6,553.4 C466.8,559.0 466.6,559.4 467.5,563.1 C468.5,566.7 468.0,566.1 468.8,565.6 C469.6,565.2 469.1,560.3 470.1,561.5 C471.1,562.6 470.9,565.2 472.0,569.5 C473.2,573.8 472.8,573.0 473.9,575.9 C475.1,578.8 474.9,573.3 475.9,579.1 C476.8,584.9 476.4,585.6 477.2,595.2 C477.9,604.8 477.7,603.5 478.4,611.2 C479.2,618.9 478.8,615.1 479.7,620.9 C480.7,626.7 480.5,623.8 481.7,630.5 C482.8,637.2 482.4,636.1 483.6,643.3 C484.7,650.6 484.5,650.1 485.5,654.6 C486.5,659.1 486.0,659.9 486.8,658.4 C487.6,657.0 487.3,658.2 488.1,649.8 C488.8,641.4 488.6,641.1 489.4,630.5 C490.1,619.9 489.9,626.0 490.6,614.4 C491.4,602.9 491.2,606.4 491.9,592.0 C492.7,577.5 492.4,578.8 493.2,566.3 C494.0,553.8 493.7,557.9 494.5,550.2 C495.3,542.5 495.0,544.4 495.8,540.6 C496.6,536.7 496.3,538.2 497.1,537.4 C497.8,536.6 497.4,539.0 498.3,538.0 C499.3,537.1 499.1,535.5 500.3,534.2 C501.4,532.8 501.0,533.8 502.2,533.5 C503.4,533.2 503.2,531.1 504.1,533.2 C505.1,535.3 504.6,535.5 505.4,540.6 C506.2,545.7 505.7,543.5 506.7,550.2 C507.7,557.0 507.5,555.4 508.6,563.1 C509.8,570.8 509.6,567.2 510.6,575.9 C511.5,584.6 511.1,584.9 511.8,592.0 C512.6,599.0 512.3,599.4 513.1,599.4 C513.9,599.4 513.6,595.6 514.4,592.0 C515.2,588.3 514.9,589.3 515.7,587.2 C516.5,585.0 516.2,581.1 517.0,584.9 C517.7,588.8 517.5,592.9 518.3,600.0 C519.0,607.1 518.8,609.2 519.5,608.7 C520.3,608.2 520.1,604.4 520.8,598.4 C521.6,592.4 521.3,593.1 522.1,588.8 C522.9,584.4 522.6,585.9 523.4,583.9 C524.2,582.0 523.9,586.7 524.7,582.3 C525.4,578.0 525.2,575.3 526.0,569.5 C526.7,563.7 526.3,565.5 527.2,563.1 C528.2,560.7 528.0,560.7 529.2,561.5 C530.3,562.2 530.1,566.1 531.1,565.6 C532.1,565.2 531.6,563.5 532.4,559.9 C533.2,556.2 532.9,556.8 533.7,553.4 C534.4,550.1 534.2,550.6 535.0,548.6 C535.7,546.7 535.5,549.4 536.2,547.0 C537.0,544.6 536.8,543.3 537.5,540.6 C538.3,537.9 538.0,538.5 538.8,538.0 C539.6,537.5 539.3,536.3 540.1,539.0 C540.9,541.7 540.4,546.1 541.4,547.0 C542.3,548.0 542.1,543.2 543.3,542.2 C544.5,541.2 544.3,542.4 545.2,543.8 C546.2,545.3 545.7,548.0 546.5,547.0 C547.3,546.1 546.8,543.7 547.8,540.6 C548.8,537.5 548.8,536.3 549.7,536.7 C550.7,537.2 550.2,535.3 551.0,542.2 C551.8,549.1 551.5,549.7 552.3,559.9 C553.1,570.0 552.8,568.7 553.6,575.9 C554.3,583.1 554.1,580.6 554.9,583.9 C555.6,587.3 555.4,586.7 556.1,587.2 C556.9,587.6 556.7,580.7 557.4,585.6 C558.2,590.4 557.9,595.0 558.7,603.2 C559.5,611.4 559.2,610.9 560.0,612.8 C560.8,614.8 560.5,613.0 561.3,609.6 C562.1,606.3 561.8,604.2 562.6,601.6 C563.3,599.0 563.1,601.0 563.9,601.0 C564.6,601.0 564.4,606.2 565.1,601.6 C565.9,597.0 565.5,597.1 566.4,585.6 C567.4,574.0 567.2,573.7 568.3,563.1 C569.5,552.5 569.1,557.9 570.3,550.2 C571.4,542.5 571.0,546.1 572.2,537.4 C573.4,528.7 573.2,526.9 574.1,521.3 C575.1,515.7 574.4,519.0 575.4,518.8 C576.4,518.6 576.2,521.8 577.3,520.7 C578.5,519.5 578.1,517.6 579.3,514.9 C580.4,512.2 580.0,512.2 581.2,511.7 C582.3,511.2 582.0,509.4 583.1,513.3 C584.3,517.2 583.9,517.3 585.0,524.5 C586.2,531.8 585.8,529.7 587.0,537.4 C588.1,545.1 587.7,542.5 588.9,550.2 C590.1,557.9 589.7,556.8 590.8,563.1 C592.0,569.3 591.6,565.8 592.8,571.1 C593.9,576.4 593.5,577.2 594.7,580.7 C595.8,584.3 595.4,582.0 596.6,583.0 C597.8,583.9 597.4,584.8 598.5,583.9 C599.7,583.1 599.5,580.6 600.5,580.1 C601.4,579.6 601.0,579.7 601.7,582.3 C602.5,584.9 602.1,584.4 603.0,588.8 C604.0,593.1 603.8,592.0 605.0,596.8 C606.1,601.6 605.9,605.3 606.9,604.8 C607.8,604.3 607.4,600.0 608.2,595.2 C608.9,590.4 608.3,593.6 609.4,588.8 C610.6,583.9 610.6,586.8 611.9,579.1 C613.2,571.4 612.7,574.6 613.9,563.1 C615.0,551.5 614.6,554.1 615.8,540.6 C616.9,527.1 616.6,530.2 617.7,518.1 C618.9,506.1 618.7,506.7 619.6,500.5 C620.6,494.2 620.1,497.5 620.9,497.2 C621.7,497.0 621.2,498.5 622.2,499.5 C623.2,500.5 623.0,502.1 624.1,500.5 C625.3,498.8 624.9,496.7 626.1,494.0 C627.2,491.3 626.8,492.4 628.0,491.5 C629.1,490.5 628.9,489.6 629.9,490.8 C630.9,492.1 630.2,492.8 631.2,495.6 C632.2,498.5 632.0,498.1 633.1,500.5 C634.3,502.9 633.9,501.3 635.0,503.7 C636.2,506.1 635.8,503.7 637.0,508.5 C638.1,513.3 637.7,512.5 638.9,519.7 C640.1,526.9 639.7,524.9 640.8,532.6 C642.0,540.3 641.8,537.2 642.8,545.4 C643.7,553.6 643.3,550.7 644.0,559.9 C644.8,569.0 644.6,566.8 645.3,575.9 C646.1,585.1 645.8,584.6 646.6,590.4 C647.4,596.1 647.1,594.7 647.9,595.2 C648.7,595.7 648.4,599.7 649.2,592.0 C649.9,584.3 649.7,582.0 650.5,569.5 C651.2,557.0 651.0,558.9 651.7,550.2 C652.5,541.6 652.1,544.9 653.0,540.6 C654.0,536.3 653.8,541.6 655.0,535.8 C656.1,530.0 655.7,530.0 656.9,521.3 C658.0,512.7 657.8,516.5 658.8,506.9 C659.8,497.2 659.3,498.4 660.1,489.2 C660.9,480.1 660.6,481.7 661.4,476.4 C662.1,471.1 661.9,470.6 662.7,471.6 C663.4,472.5 663.2,474.3 663.9,479.6 C664.7,484.9 664.5,484.4 665.2,489.2 C666.0,494.0 665.7,492.8 666.5,495.6 C667.3,498.5 666.8,495.0 667.8,498.9 C668.8,502.7 668.6,503.2 669.7,508.5 C670.9,513.8 670.7,511.2 671.7,516.5 C672.6,521.8 672.2,521.6 672.9,526.1 C673.7,530.7 673.4,530.6 674.2,531.6 C675.0,532.6 674.7,531.7 675.5,529.4 C676.3,527.0 676.0,525.8 676.8,523.9 C677.6,522.0 677.3,520.8 678.1,522.9 C678.8,525.1 678.4,526.1 679.4,531.0 C680.3,535.8 680.1,535.4 681.3,539.0 C682.4,542.6 682.2,542.8 683.2,542.8 C684.2,542.8 683.7,543.0 684.5,539.0 C685.3,534.9 685.0,533.5 685.8,529.4 C686.6,525.2 686.3,526.8 687.1,525.2 C687.8,523.5 687.6,523.1 688.3,523.9 C689.1,524.7 688.9,525.8 689.6,527.8 C690.4,529.7 690.0,529.8 690.9,530.3 C691.9,530.8 691.7,530.1 692.8,529.4 C694.0,528.6 693.6,528.7 694.8,527.8 C695.9,526.8 695.7,525.7 696.7,526.1 C697.7,526.6 697.2,527.9 698.0,529.4 C698.8,530.8 698.5,526.6 699.3,531.0 C700.0,535.3 699.8,537.1 700.6,543.8 C701.3,550.6 701.1,548.6 701.8,553.4 C702.6,558.3 702.3,556.0 703.1,559.9 C703.9,563.7 703.6,563.2 704.4,566.3 C705.2,569.4 704.9,566.8 705.7,570.1 C706.5,573.5 706.3,573.9 707.0,577.5 C707.6,581.2 707.4,582.1 707.9,582.3 C708.5,582.6 708.2,579.3 708.9,578.5 C709.6,577.7 709.2,579.6 710.2,579.8 C711.1,580.0 711.1,582.2 712.1,579.1 C713.1,576.0 712.6,577.2 713.4,569.5 C714.2,561.8 713.9,564.0 714.7,553.4 C715.4,542.8 715.2,544.8 716.0,534.2 C716.7,523.6 716.5,526.8 717.2,518.1 C718.0,509.4 717.8,513.0 718.5,505.3 C719.3,497.6 719.0,498.7 719.8,492.4 C720.6,486.2 720.3,488.7 721.1,484.4 C721.9,480.1 721.6,481.4 722.4,478.0 C723.2,474.6 722.9,478.5 723.7,473.2 C724.4,467.9 724.2,466.3 725.0,460.3 C725.7,454.3 725.5,456.0 726.2,453.3 C727.0,450.6 726.6,452.1 727.5,451.3 C728.5,450.6 728.5,451.8 729.4,450.7 C730.4,449.5 730.0,448.9 730.7,447.5 C731.5,446.0 731.2,445.4 732.0,445.9 C732.8,446.4 732.3,446.2 733.3,449.1 C734.3,452.0 734.1,451.7 735.2,455.5 C736.4,459.4 736.0,457.1 737.2,461.9 C738.3,466.7 738.1,465.8 739.1,471.6 C740.0,477.3 739.6,475.4 740.4,481.2 C741.1,487.0 740.7,485.0 741.7,490.8 C742.6,496.6 742.6,493.7 743.6,500.5 C744.5,507.2 744.1,506.6 744.9,513.3 C745.6,520.0 745.4,518.1 746.1,522.9 C746.9,527.8 746.7,526.9 747.4,529.4 C748.2,531.8 747.9,530.3 748.7,531.0 C749.5,531.6 749.2,532.6 750.0,531.6 C750.8,530.6 750.3,530.8 751.3,527.8 C752.2,524.7 752.1,525.2 753.2,521.3 C754.4,517.5 754.0,518.0 755.1,514.9 C756.3,511.8 755.9,513.5 757.1,511.1 C758.2,508.6 757.8,509.6 759.0,506.9 C760.1,504.2 759.8,505.0 760.9,502.1 C762.1,499.2 761.9,501.6 762.8,497.2 C763.8,492.9 763.4,493.9 764.1,487.6 C764.9,481.4 764.6,483.6 765.4,476.4 C766.2,469.2 765.9,469.8 766.7,463.5 C767.5,457.3 767.2,458.7 768.0,455.5 C768.8,452.3 768.3,453.9 769.3,452.9 C770.2,452.0 769.8,452.5 771.2,452.3 C772.5,452.1 772.4,452.3 773.8,452.3 C775.1,452.3 775.1,452.3 775.7,452.3" fill="none" stroke="#2fa2de" stroke-width="1.35" stroke-linejoin="round" stroke-linecap="round"/>
<g stroke="#a0a0a0" stroke-width="1" fill="none" shape-rendering="crispEdges">
<path d="M52,437.5H57.5V667"/>
<path d="M783,437.5H777.5V667"/>
<path d="M52,662.5H783"/>
</g>
<g font-size="10" fill="#767676" text-anchor="end">
<text x="49" y="461.6">200 m</text><text x="49" y="512.6">150 m</text><text x="49" y="563.6">100 m</text><text x="49" y="614.6">50 m</text><text x="49" y="666.6">0 m</text>
</g>
<g font-size="10" fill="#767676" text-anchor="start">
<text x="786" y="441.6">3:20/km</text><text x="786" y="473.6">3:40/km</text><text x="786" y="505.6">4:00/km</text><text x="786" y="537.6">4:20/km</text><text x="786" y="569.6">4:40/km</text><text x="786" y="601.6">5:00/km</text><text x="786" y="633.6">5:20/km</text><text x="786" y="666.6">5:40/km</text>
</g>
<g font-size="10" fill="#767676" text-anchor="middle">
<text x="129" y="678">0.5 km</text><text x="201" y="678">1.0 km</text><text x="274" y="678">1.5 km</text><text x="346" y="678">2.0 km</text><text x="418" y="678">2.5 km</text><text x="490" y="678">3.0 km</text><text x="563" y="678">3.5 km</text><text x="635" y="678">4.0 km</text><text x="707" y="678">4.5 km</text>
</g>
</svg>

<div class="tl" style="left:205px">Pace</div>
<div class="tl" style="left:315px;top:722.5px;font-size:7px;color:#555;">GAP</div>
<div class="tl" style="left:433px">Heart Rate</div>
<div class="tl" style="left:554px">Cadence</div>
<div class="tl" style="left:684px">Temperature</div>
<div class="abs" style="left:239px;top:738px;width:36px;height:15px;border-radius:8px;background:#2aa737;"></div>
<div class="abs" style="left:242px;top:739px;font-size:10px;font-weight:bold;color:#fff;line-height:12px;">on</div>
<div class="abs" style="left:258px;top:737px;width:17px;height:17px;border-radius:9px;background:#fdfdfd;border:1px solid #d0d0d0;box-sizing:border-box;box-shadow:0 1px 1px rgba(0,0,0,0.15);"></div>
<div class="tg" style="left:351px"><b></b></div>
<div class="tg" style="left:470px"><b></b></div>
<div class="tg" style="left:591px"><b></b></div>
<div class="tg" style="left:721px"><b></b></div>
<div class="abs" style="left:129px;top:761px;width:679px;height:1px;background:#e3e3e3;"></div>
<div class="abs" style="left:155px;top:773px;font-size:11px;color:#222;">Avg</div>
<div class="abs" style="left:233px;top:773px;font-size:11px;color:#222;">4:22 <span style="font-size:10px">/km</span></div>
<div class="abs" style="left:343px;top:773px;font-size:11px;color:#222;">4:20 <span style="font-size:10px">/km</span></div>
<div class="abs" style="left:462px;top:773px;font-size:11px;color:#222;">139 <span style="font-size:10px">bpm</span></div>
<div class="abs" style="left:584px;top:773px;font-size:11px;color:#222;">180 <span style="font-size:10px">spm</span></div>
<div class="abs" style="left:721px;top:773px;font-size:11px;color:#222;">11 <span style="font-size:10px">°C</span></div>

</body></html>
